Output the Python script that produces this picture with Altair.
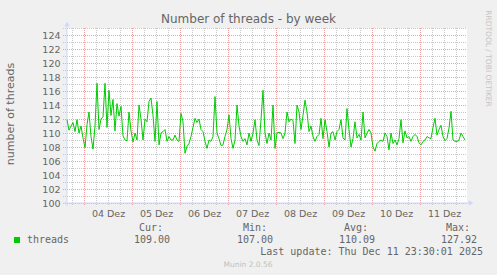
import altair as alt
import pandas as pd

# ---------------- data ----------------
threads = [
    111.9, 110.4, 111.0, 111.5, 110.2, 111.9, 110.0, 111.0, 109.3, 107.9,
    111.2, 113.0, 109.5, 107.7, 111.0, 117.1, 110.5, 112.0, 112.3, 117.1,
    110.8, 116.1, 112.5, 114.8, 110.3, 114.2, 112.4, 113.8, 109.6, 109.0,
    108.9, 113.0, 110.3, 108.7,
    110.0, 109.0, 114.0, 112.0, 109.0, 112.0, 111.6, 114.5, 115.0, 112.5,
    108.8, 114.5, 108.3, 110.0, 110.2, 110.5, 108.8, 109.5, 109.0, 109.0,
    109.7, 109.0, 108.8, 112.8, 111.6, 107.1, 108.1, 108.5, 109.5, 110.8,
    112.1, 111.5, 112.0,
    110.5, 110.2, 108.8, 107.8, 109.0, 108.8, 109.5, 115.2, 110.0, 109.2,
    108.2, 108.3, 109.5, 110.5, 112.6, 109.2, 107.8, 109.0, 114.0, 111.0,
    109.5, 108.8, 109.2, 108.3, 110.0, 108.8, 110.0, 111.9, 109.0, 108.2,
    111.9, 116.1, 110.0, 108.5,
    110.0, 109.0, 114.0, 107.8, 110.0, 110.1, 110.0, 109.2, 110.0, 113.0,
    111.6, 112.0, 111.8, 108.5, 114.0, 113.0, 110.5, 112.5, 114.7, 113.0,
    110.2, 111.0, 109.5, 108.8, 109.5, 109.8, 112.1, 109.2, 111.9, 110.2,
    108.0, 110.0, 110.2,
    109.0, 110.2, 110.5, 111.9, 109.3, 109.0, 113.5, 110.5, 108.0, 109.2,
    111.6, 109.3, 109.8, 109.0, 113.0, 109.3, 110.0, 110.5, 110.0, 108.0,
    107.4, 108.5, 108.8, 109.0, 108.8, 110.0, 109.5, 107.6, 110.0, 108.5,
    109.0, 108.3, 109.2, 111.9,
    108.6, 110.3, 109.3, 109.5, 108.8, 109.5, 109.8, 109.5, 108.6, 108.3,
    108.8, 109.0, 109.5, 109.3, 109.2, 110.8, 112.1, 109.7, 110.5, 111.1,
    109.5, 108.9, 109.2, 110.7, 113.1, 109.0, 108.8, 108.8, 109.0, 110.0,
    109.5, 109.0,
]
day_labels = ["04 Dez", "05 Dez", "06 Dez", "07 Dez", "08 Dez", "09 Dez", "10 Dez", "11 Dez"]
series_name = "threads"
stat_names = ["Cur:", "Min:", "Avg:", "Max:"]
stat_values = ["109.00", "107.00", "110.09", "127.92"]
title_text = "Number of threads - by week"
y_title = "number of threads"
last_update = "Last update: Thu Dec 11 23:30:01 2025"
footer = "Munin 2.0.56"
watermark = "RRDTOOL / TOBI OETIKER"

Y_MIN, Y_MAX = 100, 125
SPAN_H = 200            # hours shown
FIRST_MIDNIGHT_H = 8.5  # hours from start to 04 Dez 00:00

# ---------------- layout ----------------
W, H = 400, 175
PL, PT = 67, 28
FONT = "DejaVu Sans"
MONO = "DejaVu Sans Mono"
TXT = "#666666"
GREEN = "#00cc00"
AXIS_C = "#cfd6f8"
GRID_MINOR = "#c8c8c8"
GRID_MAJOR = "#f0a0a0"

df = pd.DataFrame({"hour": list(range(len(threads))), "threads": threads})

xs = alt.Scale(domain=[0, SPAN_H], nice=False, zero=False)
ys = alt.Scale(domain=[Y_MIN, Y_MAX], nice=False, zero=False)

major_y = [v for v in range(Y_MIN, Y_MAX + 1) if v % 2 == 0]
minor_y = [v for v in range(Y_MIN, Y_MAX + 1) if v % 2 == 1]
midnights = [FIRST_MIDNIGHT_H + 24 * k for k in range(len(day_labels))]
quarter = [FIRST_MIDNIGHT_H - 6 + 6 * k for k in range(40)]
minor_x = [h for h in quarter if 0 < h < SPAN_H and h not in midnights]
noons = [m + 12 for m in midnights]

label_expr = "[" + ",".join("'%s'" % d for d in day_labels) + "][round((datum.value - %s) / 24)]" % noons[0]

x_axis = alt.Axis(
    values=noons, labelExpr=label_expr, title=None, domain=False, ticks=False, tickSize=0,
    grid=False, labelFont=FONT, labelFontSize=9.5, labelColor=TXT, labelPadding=5)
y_axis = alt.Axis(
    values=major_y, title=None, domain=False, ticks=False, tickSize=0, grid=False,
    labelFont=FONT, labelFontSize=9.5, labelColor=TXT, labelPadding=7)


def hrules(vals, color):
    return alt.Chart(pd.DataFrame({"v": vals})).mark_rule(
        color=color, strokeDash=[1, 1], strokeWidth=1, yOffset=0.5
    ).encode(y=alt.Y("v:Q", scale=ys, axis=y_axis), x=alt.value(-4), x2=alt.value(W))


def vrules(vals, color):
    return alt.Chart(pd.DataFrame({"v": vals})).mark_rule(
        color=color, strokeDash=[1, 1], strokeWidth=1, xOffset=0.5
    ).encode(x=alt.X("v:Q", scale=xs, axis=x_axis), y=alt.value(0), y2=alt.value(H + 3))


def txt(s, x, y, size=10, font=FONT, color=TXT, align="left", baseline="middle", angle=0):
    return alt.Chart(pd.DataFrame({"t": [s]})).mark_text(
        font=font, fontSize=size, color=color, align=align, baseline=baseline, angle=angle
    ).encode(text="t:N", x=alt.value(x), y=alt.value(y))


one = pd.DataFrame({"a": [0]})

axis_left = alt.Chart(one).mark_rule(color=AXIS_C, strokeWidth=1).encode(
    x=alt.value(0), y=alt.value(-4), y2=alt.value(H + 3))
axis_bottom = alt.Chart(one).mark_rule(color=AXIS_C, strokeWidth=1).encode(
    y=alt.value(H), x=alt.value(-4), x2=alt.value(W + 3))
arrow_up = alt.Chart(one).mark_point(shape="triangle-up", filled=True, color=AXIS_C, size=28, opacity=1).encode(
    x=alt.value(0), y=alt.value(-4))
arrow_right = alt.Chart(one).mark_point(shape="triangle-right", filled=True, color=AXIS_C, size=28, opacity=1).encode(
    x=alt.value(W + 4), y=alt.value(H))

line = alt.Chart(df).mark_line(color=GREEN, strokeWidth=1).encode(
    x=alt.X("hour:Q", scale=xs, axis=x_axis),
    y=alt.Y("threads:Q", scale=ys, axis=y_axis),
)

legend_sq = alt.Chart(one).mark_rect(color=GREEN).encode(
    x=alt.value(-53), x2=alt.value(-47), y=alt.value(209), y2=alt.value(215))

name_x = [96, 200, 301, 403]
val_x = [103, 206, 308, 410]
stats = []
for n, v, nx, vx in zip(stat_names, stat_values, name_x, val_x):
    stats.append(txt(n, nx, 200, font=MONO, align="right"))
    stats.append(txt(v, vx, 212, font=MONO, align="right"))

chart = alt.layer(
    vrules(minor_x, GRID_MINOR),
    hrules(minor_y, GRID_MINOR),
    vrules(midnights, GRID_MAJOR),
    hrules(major_y, GRID_MAJOR),
    axis_left, axis_bottom,
    line,
    arrow_up, arrow_right,
    txt(title_text, 181.5, -5.5, size=12, baseline="alphabetic", align="center"),
    txt(y_title, -56, 86, size=11, align="center", angle=270),
    txt(watermark, 420.5, 30.5, size=7.5, color="#c4c4c4", align="center", angle=90),
    legend_sq,
    txt(series_name, -40, 212, font=MONO),
    *stats,
    txt(last_update, 416, 224, font=MONO, align="right"),
    txt(footer, 181, 236.5, size=7.5, color="#c0c0c0", align="center"),
).properties(
    width=W, height=H,
    autosize=alt.AutoSizeParams(type="none"),
    padding={"left": PL, "top": PT, "right": 497 - PL - W, "bottom": 275 - PT - H},
    background="#f0f0f0",
).configure_view(stroke=None, fill="white")

chart.save("out.html", embed_options={"renderer": "svg", "actions": False})
